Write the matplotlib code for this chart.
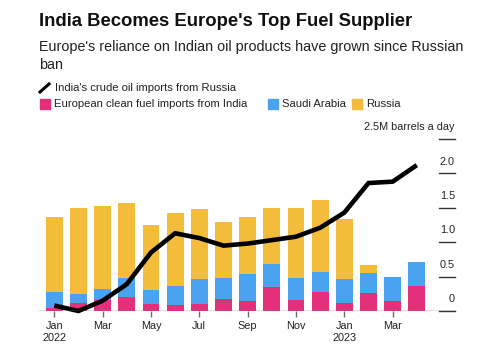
import matplotlib.pyplot as plt
from matplotlib.lines import Line2D
from matplotlib.patches import Rectangle

plt.rcParams["font.family"] = ["Liberation Sans", "DejaVu Sans"]

months = ["Jan 2022", "Feb 2022", "Mar 2022", "Apr 2022", "May 2022", "Jun 2022",
          "Jul 2022", "Aug 2022", "Sep 2022", "Oct 2022", "Nov 2022", "Dec 2022",
          "Jan 2023", "Feb 2023", "Mar 2023", "Apr 2023"]

# European clean fuel imports, million barrels a day
india = [0.04, 0.12, 0.16, 0.20, 0.10, 0.09, 0.10, 0.17,
         0.15, 0.35, 0.16, 0.28, 0.11, 0.26, 0.15, 0.36]
saudi = [0.23, 0.12, 0.16, 0.28, 0.21, 0.28, 0.36, 0.31,
         0.39, 0.33, 0.32, 0.28, 0.35, 0.29, 0.35, 0.35]
russia = [1.09, 1.26, 1.21, 1.09, 0.94, 1.06, 1.02, 0.82,
          0.83, 0.82, 1.01, 1.05, 0.88, 0.12, 0.0, 0.0]

# India's crude oil imports from Russia
crude = [0.08, 0.0, 0.15, 0.39, 0.85, 1.13, 1.06, 0.95,
         0.98, 1.03, 1.08, 1.21, 1.43, 1.86, 1.88, 2.12]

tick_pos = [0, 2, 4, 6, 8, 10, 12, 14]
tick_labels = ["Jan\n2022", "Mar", "May", "Jul", "Sep", "Nov", "Jan\n2023", "Mar"]
y_ticks = [0, 0.5, 1.0, 1.5, 2.0, 2.5]
y_labels = ["0", "0.5", "1.0", "1.5", "2.0", "2.5M barrels a day"]

PINK = "#E2307B"
BLUE = "#4AA3EF"
YELLOW = "#F4BC3B"
GREY = "#6E6E6E"

W, H = 503, 344
fig = plt.figure(figsize=(W / 100, H / 100), dpi=100)
ax = fig.add_axes([39 / W, (H - 311) / H, (455 - 39) / W, (311 - 139) / H])

x = list(range(len(months)))
bottom2 = india
bottom3 = [a + b for a, b in zip(india, saudi)]
ax.bar(x, india, width=0.7, color=PINK, zorder=2)
ax.bar(x, saudi, width=0.7, bottom=bottom2, color=BLUE, zorder=2)
ax.bar(x, russia, width=0.7, bottom=bottom3, color=YELLOW, zorder=2)
ax.plot(x, crude, color="black", lw=3.3, solid_joinstyle="miter",
        solid_capstyle="butt", zorder=3, clip_on=False)

ax.set_xlim(-0.633, 16.58)
ax.set_ylim(0, 2.5)
for s in ax.spines.values():
    s.set_visible(False)
ax.axhline(0, color=GREY, lw=1, zorder=4)

ax.set_yticks([])
ax.set_xticks(tick_pos)
ax.set_xticklabels(tick_labels, fontsize=7.8, color="#222222", linespacing=1.25)
ax.tick_params(axis="x", length=4, width=1, color=GREY, pad=3)

# value labels sit above short rule lines on the right edge
ytr = ax.get_yaxis_transform()
for v, lab in zip(y_ticks, y_labels):
    ax.plot([0.9615, 1.0], [v, v], color="#333333", lw=1, transform=ytr, clip_on=False)
    ax.text(1.0, v + 0.1, lab, transform=ytr, ha="right", va="bottom",
            fontsize=7.8, color="#222222")

fig.text(39 / W, 1 - 22 / H, "India Becomes Europe's Top Fuel Supplier",
         fontsize=13.3, fontweight="bold", va="center", ha="left", color="#111111")
fig.text(39 / W, 1 - 47 / H, "Europe's reliance on Indian oil products have grown since Russian",
         fontsize=10.35, va="center", ha="left", color="#222222")
fig.text(39 / W, 1 - 65 / H, "ban", fontsize=10.35, va="center", ha="left", color="#222222")

# legend
fig.add_artist(Line2D([40 / W, 49 / W], [1 - 92 / H, 1 - 84 / H], color="black", lw=2.2))
fig.text(55 / W, 1 - 88 / H, "India's crude oil imports from Russia",
         fontsize=8.1, va="center", ha="left", color="#222222")
for x0, color, lab in [(40, PINK, "European clean fuel imports from India"),
                       (268, BLUE, "Saudi Arabia"),
                       (352, YELLOW, "Russia")]:
    fig.add_artist(Rectangle((x0 / W, 1 - 109 / H), 9.5 / W, 9.5 / H,
                             transform=fig.transFigure, color=color))
    fig.text((x0 + 14) / W, 1 - 104 / H, lab, fontsize=8.1, va="center",
             ha="left", color="#222222")

fig.savefig("out.png", dpi=100)
